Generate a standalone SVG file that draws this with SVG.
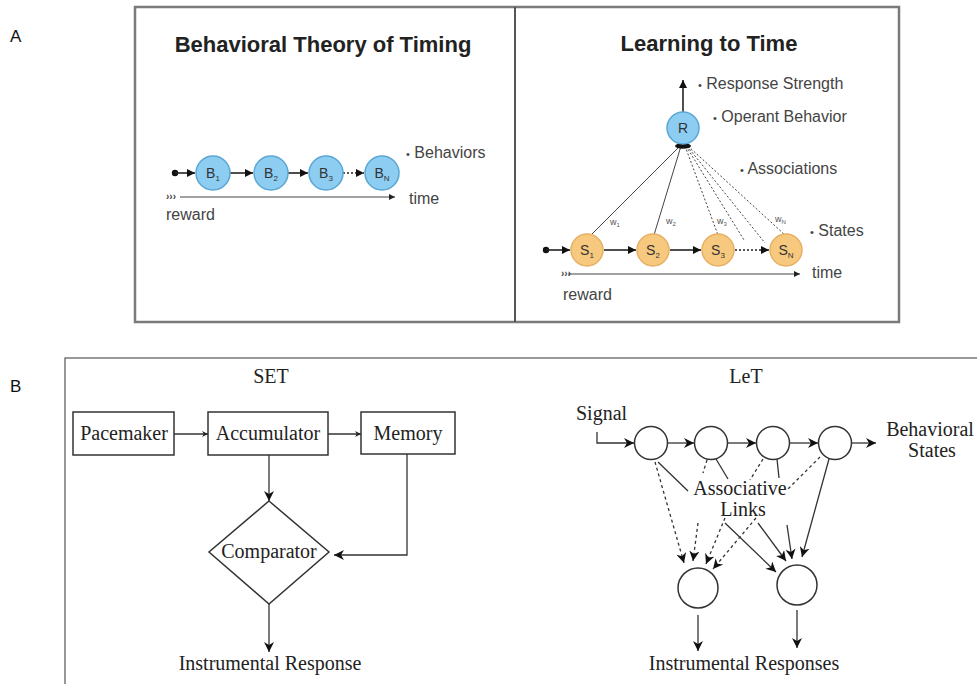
<svg xmlns="http://www.w3.org/2000/svg" width="977" height="684" viewBox="0 0 977 684">
<style>
.lbl{font-family:"Liberation Sans",Arial,sans-serif;font-size:16px;fill:#444}
.ttl{font-family:"Liberation Sans",Arial,sans-serif;font-size:22px;font-weight:bold;fill:#222}
.nt{font-family:"Liberation Sans",Arial,sans-serif;font-size:14px;fill:#333;text-anchor:middle}
.sub{font-size:8px}
.w{font-family:"Liberation Sans",Arial,sans-serif;font-size:9px;fill:#555}
.ser{font-family:"Liberation Serif","Times New Roman",serif;font-size:20px;fill:#222}
.mid{text-anchor:middle}
.pl{font-family:"Liberation Sans",Arial,sans-serif;font-size:17px;fill:#111}
.rw{font-family:"Liberation Sans",Arial,sans-serif;font-size:10px;font-weight:bold;fill:#444}
.blue{fill:#8ecdf2;stroke:#5aa7d4;stroke-width:1.5}
.org{fill:#f6c97f;stroke:#e6b064;stroke-width:1.5}
.la{stroke:#222;stroke-width:1.6;fill:none}
.thin{stroke:#444;stroke-width:1;fill:none}
.dot{stroke:#444;stroke-width:1;stroke-dasharray:2 2;fill:none}
.bx{fill:#fff;stroke:#333;stroke-width:1.5}
.bl{stroke:#333;stroke-width:1.3;fill:none}
.bd{stroke:#333;stroke-width:1.3;stroke-dasharray:3 3;fill:none}
</style>
<defs>
<marker id="ta" viewBox="0 0 10 10" refX="10" refY="5" markerWidth="9" markerHeight="8" orient="auto" markerUnits="userSpaceOnUse"><path d="M0,0 L10,5 L0,10 z" fill="#111"/></marker>
<marker id="tt" viewBox="0 0 10 10" refX="10" refY="5" markerWidth="8" markerHeight="6" orient="auto" markerUnits="userSpaceOnUse"><path d="M0,0 L10,5 L0,10 z" fill="#222"/></marker>
<marker id="sm" viewBox="0 0 10 10" refX="10" refY="5" markerWidth="6" markerHeight="6" orient="auto" markerUnits="userSpaceOnUse"><path d="M0,0 L10,5 L0,10 L3,5 z" fill="#222"/></marker>
<marker id="bh" viewBox="0 0 10 10" refX="10" refY="5" markerWidth="12" markerHeight="10" orient="auto" markerUnits="userSpaceOnUse"><path d="M0,0 L10,5 L0,10 L3,5 z" fill="#111"/></marker>
</defs>
<rect width="977" height="684" fill="#fff"/>

<text class="pl" x="10" y="42">A</text>
<text class="pl" x="10" y="392">B</text>

<g id="panelA-frame">
<rect x="135" y="7" width="764" height="315" fill="none" stroke="#7a7a7a" stroke-width="2.5"/>
<line x1="515" y1="7" x2="515" y2="322" stroke="#555" stroke-width="2"/>
</g>

<text class="ttl" x="323" y="52" text-anchor="middle">Behavioral Theory of Timing</text>
<text class="ttl" x="709" y="51" text-anchor="middle">Learning to Time</text>

<g id="connectors">
<!-- left panel A -->
<circle cx="175" cy="173" r="3.2" fill="#111"/>
<line class="la" x1="175" y1="173" x2="195" y2="173" marker-end="url(#ta)"/>
<line class="la" x1="230" y1="173" x2="253" y2="173" marker-end="url(#ta)"/>
<line class="la" x1="288" y1="173" x2="308" y2="173" marker-end="url(#ta)"/>
<line class="la" x1="343" y1="173" x2="364" y2="173" stroke-dasharray="2 2" marker-end="url(#ta)"/>
<line class="thin" x1="180" y1="197" x2="395" y2="197" marker-end="url(#tt)"/>
<text class="rw" x="166" y="200">›››</text>

<!-- right panel A -->
<line class="la" x1="683" y1="112" x2="683" y2="80" marker-end="url(#ta)"/>
<circle cx="546" cy="250" r="3.2" fill="#111"/>
<line class="la" x1="546" y1="250" x2="570" y2="250" marker-end="url(#ta)"/>
<line class="la" x1="604" y1="250" x2="636" y2="250" marker-end="url(#ta)"/>
<line class="la" x1="670" y1="250" x2="701" y2="250" marker-end="url(#ta)"/>
<line class="la" x1="735" y1="250" x2="769" y2="250" stroke-dasharray="2 2" marker-end="url(#ta)"/>
<line class="thin" x1="568" y1="274" x2="800" y2="274" marker-end="url(#tt)"/>
<text class="rw" x="561" y="277">›››</text>
<line class="thin" x1="680" y1="146" x2="591" y2="235" stroke-width="1.4"/>
<line class="thin" x1="681" y1="146" x2="654" y2="235" stroke-width="1.4"/>
<line class="dot" x1="685" y1="146" x2="718" y2="235"/>
<line class="dot" x1="686" y1="146" x2="744" y2="240"/>
<line class="dot" x1="687" y1="146" x2="765" y2="243"/>
<line class="dot" x1="688" y1="146" x2="785" y2="235"/>
<ellipse cx="683" cy="146" rx="8" ry="2.8" fill="#111"/>

<!-- SET -->
<line class="bl" x1="174" y1="434" x2="208" y2="434" marker-end="url(#sm)"/>
<line class="bl" x1="328" y1="434" x2="361" y2="434" marker-end="url(#sm)"/>
<line class="bl" x1="269" y1="455" x2="269" y2="501" marker-end="url(#bh)"/>
<polyline class="bl" points="407,454 407,555 334,555" marker-end="url(#bh)"/>
<line class="bl" x1="269" y1="604" x2="269" y2="652" marker-end="url(#bh)"/>

<!-- LeT -->
<polyline class="bl" points="597,432 597,443 634,443" marker-end="url(#bh)"/>
<line class="bl" x1="668" y1="443" x2="694" y2="443" marker-end="url(#bh)"/>
<line class="bl" x1="728" y1="443" x2="756" y2="443" marker-end="url(#bh)"/>
<line class="bl" x1="790" y1="443" x2="818" y2="443" marker-end="url(#bh)"/>
<line class="bl" x1="852" y1="443" x2="876" y2="443" marker-end="url(#bh)"/>
<line class="bl" x1="658" y1="462" x2="688" y2="491"/>
<line class="bl" x1="716" y1="459" x2="728" y2="479"/>
<line class="bl" x1="777" y1="459" x2="779" y2="478"/>
<line class="bd" x1="707" y1="460" x2="703" y2="473"/>
<line class="bd" x1="763" y1="459" x2="750" y2="480"/>
<line class="bd" x1="820" y1="457" x2="788" y2="489"/>
<line class="bd" x1="655" y1="462" x2="684" y2="563" marker-end="url(#bh)"/>
<line class="bd" x1="698" y1="523" x2="693" y2="561" marker-end="url(#bh)"/>
<line class="bd" x1="725" y1="518" x2="706" y2="564" marker-end="url(#bh)"/>
<line class="bd" x1="756" y1="518" x2="713" y2="569" marker-end="url(#bh)"/>
<line class="bl" x1="725" y1="523" x2="776" y2="572" marker-end="url(#bh)"/>
<line class="bl" x1="758" y1="523" x2="786" y2="561" marker-end="url(#bh)"/>
<line class="bl" x1="787" y1="525" x2="792" y2="559" marker-end="url(#bh)"/>
<line class="bl" x1="829" y1="459" x2="802" y2="557" marker-end="url(#bh)"/>
<line class="bl" x1="698" y1="615" x2="698" y2="651" marker-end="url(#bh)"/>
<line class="bl" x1="797" y1="610" x2="797" y2="648" marker-end="url(#bh)"/>
</g>

<g id="B1"><circle class="blue" cx="213" cy="173" r="17"/><text class="nt" x="213" y="178">B<tspan class="sub" dy="3">1</tspan></text></g>
<g id="B2"><circle class="blue" cx="271" cy="173" r="17"/><text class="nt" x="271" y="178">B<tspan class="sub" dy="3">2</tspan></text></g>
<g id="B3"><circle class="blue" cx="326" cy="173" r="17"/><text class="nt" x="326" y="178">B<tspan class="sub" dy="3">3</tspan></text></g>
<g id="BN"><circle class="blue" cx="382" cy="173" r="17"/><text class="nt" x="382" y="178">B<tspan class="sub" dy="3">N</tspan></text></g>
<text class="lbl" x="406" y="158"><tspan font-size="11">•</tspan> Behaviors</text>
<text class="lbl" x="409" y="204">time</text>
<text class="lbl" x="166" y="220">reward</text>

<g id="R"><circle class="blue" cx="683" cy="128" r="16"/><text class="nt" x="683" y="133">R</text></g>
<g id="S1"><circle class="org" cx="587" cy="250" r="16"/><text class="nt" x="587" y="255">S<tspan class="sub" dy="3">1</tspan></text></g>
<g id="S2"><circle class="org" cx="653" cy="250" r="16"/><text class="nt" x="653" y="255">S<tspan class="sub" dy="3">2</tspan></text></g>
<g id="S3"><circle class="org" cx="718" cy="250" r="16"/><text class="nt" x="718" y="255">S<tspan class="sub" dy="3">3</tspan></text></g>
<g id="SN"><circle class="org" cx="786" cy="250" r="16"/><text class="nt" x="786" y="255">S<tspan class="sub" dy="3">N</tspan></text></g>
<text class="w" x="610" y="225">w<tspan font-size="6" dy="2">1</tspan></text>
<text class="w" x="666" y="224">w<tspan font-size="6" dy="2">2</tspan></text>
<text class="w" x="717" y="224">w<tspan font-size="6" dy="2">3</tspan></text>
<text class="w" x="775" y="222">w<tspan font-size="6" dy="2">N</tspan></text>
<text class="lbl" x="698" y="89"><tspan font-size="11">•</tspan> Response Strength</text>
<text class="lbl" x="713" y="122"><tspan font-size="11">•</tspan> Operant Behavior</text>
<text class="lbl" x="740" y="174"><tspan font-size="11">•</tspan> Associations</text>
<text class="lbl" x="810" y="236"><tspan font-size="11">•</tspan> States</text>
<text class="lbl" x="812" y="278">time</text>
<text class="lbl" x="563" y="300">reward</text>

<g id="panelB-frame"><rect x="65" y="358" width="920" height="340" fill="none" stroke="#555" stroke-width="1.2"/></g>

<text class="ser mid" x="271" y="383">SET</text>
<g id="pacemaker"><rect class="bx" x="73" y="412" width="101" height="43"/><text class="ser mid" x="124" y="440">Pacemaker</text></g>
<g id="accumulator"><rect class="bx" x="208" y="412" width="120" height="43"/><text class="ser mid" x="268" y="440">Accumulator</text></g>
<g id="memory"><rect class="bx" x="361" y="412" width="94" height="42"/><text class="ser mid" x="408" y="440">Memory</text></g>
<g id="comparator"><polygon class="bx" points="269,501 329,552 269,604 209,552"/><text class="ser mid" x="269" y="558">Comparator</text></g>
<text class="ser mid" x="270" y="670">Instrumental Response</text>

<text class="ser mid" x="746" y="383">LeT</text>
<text class="ser" x="576" y="420">Signal</text>
<g id="c1"><circle class="bx" cx="651" cy="443" r="16.5"/></g>
<g id="c2"><circle class="bx" cx="711" cy="443" r="16.5"/></g>
<g id="c3"><circle class="bx" cx="773" cy="443" r="16.5"/></g>
<g id="c4"><circle class="bx" cx="835" cy="443" r="16.5"/></g>
<text class="ser mid" x="930" y="436">Behavioral</text>
<text class="ser mid" x="932" y="457">States</text>
<text class="ser mid" x="740" y="495">Associative</text>
<text class="ser mid" x="743" y="516">Links</text>
<g id="r1"><circle class="bx" cx="698" cy="588" r="20"/></g>
<g id="r2"><circle class="bx" cx="797" cy="585" r="20"/></g>
<text class="ser mid" x="744" y="670">Instrumental Responses</text>
</svg>
